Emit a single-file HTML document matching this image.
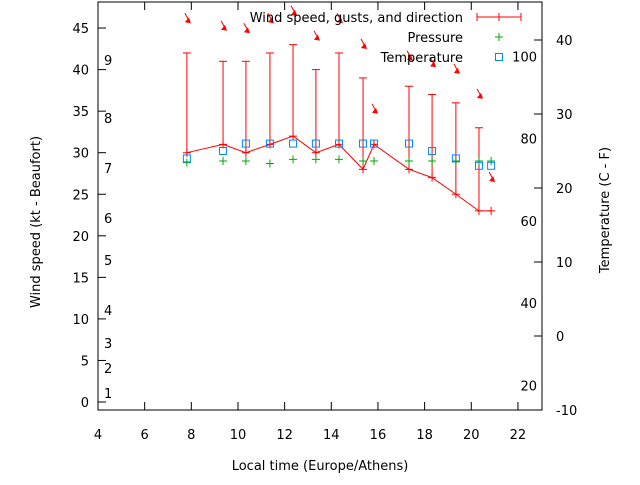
<!DOCTYPE html>
<html><head><meta charset="utf-8"><style>
body{margin:0;background:#fff}
svg text{font-family:"DejaVu Sans","Liberation Sans",sans-serif;font-size:13px;fill:#000}
</style></head><body>
<svg id="c" width="640" height="480" viewBox="0 0 640 480"></svg>
<script>
const hours=[7.81,9.36,10.34,11.37,12.36,13.34,14.33,15.36,15.83,17.33,18.32,19.34,20.33,20.85];
const speed=[30,31,30,31,32,30,31,28,31,28,27,25,23,23];
const gust=[42,41,41,42,43,40,42,39,null,38,37,36,33,null];
const pressure=[28.8,29,29,28.7,29.2,29.2,29.2,29,29,29,29,29,29,29];
const tempC=[24,25,26,26,26,26,26,26,26,26,25,24,23,23];
const arrowLevel=[45.7,44.8,44.5,45.7,46.6,43.6,45.7,42.6,34.8,41.2,40.4,39.6,36.6,26.6];
const xTicks=[4,6,8,10,12,14,16,18,20,22];
const yTicks=[0,5,10,15,20,25,30,35,40,45];
const cTicks=[-10,0,10,20,30,40];
const fTicks=[20,40,60,80,100];
const bft=[[1,393],[2,368],[3,343],[4,310],[5,260],[6,218],[7,168],[8,118],[9,60]];
const L=98,R=542,T=2,B=410;
const X=h=>L+(h-4)*23.33;
const Y=v=>402-v*8.31;
const YC=c=>410-(c+10)*7.4;
const YF=f=>YC((f-32)*5/9);
const s=document.getElementById('c');const NS='http://www.w3.org/2000/svg';
function el(t,a,txt){const e=document.createElementNS(NS,t);for(const k in a)e.setAttribute(k,a[k]);if(txt!==undefined)e.textContent=txt;s.appendChild(e);return e;}
let e=el('rect',{x:L,y:T,width:R-L,height:B-T,fill:'none',stroke:'#000'});

xTicks.forEach(t=>{const x=X(t);el('line',{x1:x,y1:B,x2:x,y2:B-8,stroke:'#000'});el('line',{x1:x,y1:T,x2:x,y2:T+8,stroke:'#000'});
 e=el('text',{x:x,y:439,'text-anchor':'middle'},t);});
yTicks.forEach(t=>{const y=Y(t);el('line',{x1:L,y1:y,x2:L+8,y2:y,stroke:'#000'});
 e=el('text',{x:L-9,y:y+5,'text-anchor':'end'},t);});
cTicks.forEach(t=>{const y=YC(t);el('line',{x1:R,y1:y,x2:R-8,y2:y,stroke:'#000'});
 e=el('text',{x:556,y:y+5},t);});
fTicks.forEach(t=>{e=el('text',{x:537,y:YF(t)+5,'text-anchor':'end'},t);});
bft.forEach(b=>{e=el('text',{x:104,y:b[1]+5},b[0]);});
e=el('text',{x:320,y:470,'text-anchor':'middle'},'Local time (Europe/Athens)');
e=el('text',{x:40,y:222,'text-anchor':'middle',transform:'rotate(-90 40 222)'},'Wind speed (kt - Beaufort)');
e=el('text',{x:609,y:210,'text-anchor':'middle',transform:'rotate(-90 609 210)'},'Temperature (C - F)');
hours.forEach((h,i)=>{if(gust[i]==null)return;const x=X(h);
 e=el('line',{x1:x,y1:Y(speed[i]),x2:x,y2:Y(gust[i]),stroke:'#f00'});
 el('line',{x1:x-4,y1:Y(gust[i]),x2:x+4,y2:Y(gust[i]),stroke:'#f00'});});
e=el('polyline',{points:hours.map((h,i)=>X(h)+','+Y(speed[i])).join(' '),fill:'none',stroke:'#f00'});

hours.forEach((h,i)=>{const x=X(h),y=Y(speed[i]);el('path',{d:`M${x-4} ${y}h8M${x} ${y-4}v8`,stroke:'#f00'});});
hours.forEach((h,i)=>{const x=X(h),y=Y(pressure[i]);e=el('path',{d:`M${x-4} ${y}h8M${x} ${y-4}v8`,stroke:'#0a0'});});
hours.forEach((h,i)=>{const x=X(h),y=YC(tempC[i]);e=el('rect',{x:x-3.5,y:y-3.5,width:7,height:7,fill:'none',stroke:'#08f'});});
hours.forEach((h,i)=>{const x=X(h)+3,y=Y(arrowLevel[i]);
 e=el('line',{x1:x-5,y1:y-9,x2:x,y2:y,stroke:'#f00'});
 el('polygon',{points:`${x+1},${y+1} ${x-5},${y} ${x-1},${y-5}`,fill:'#f00'});});
const lg=[['Wind speed, gusts, and direction',17],['Pressure',37],['Temperature',57]];
lg.forEach(l=>{e=el('text',{x:463,y:l[1]+5,'text-anchor':'end'},l[0]);});
el('path',{d:'M477 17h44M477 13v8M521 13v8M499 13v8',stroke:'#f00'});
el('path',{d:'M495 37h8M499 33v8',stroke:'#0a0'});
el('rect',{x:495.5,y:53.5,width:7,height:7,fill:'none',stroke:'#08f'});
</script></body></html>
